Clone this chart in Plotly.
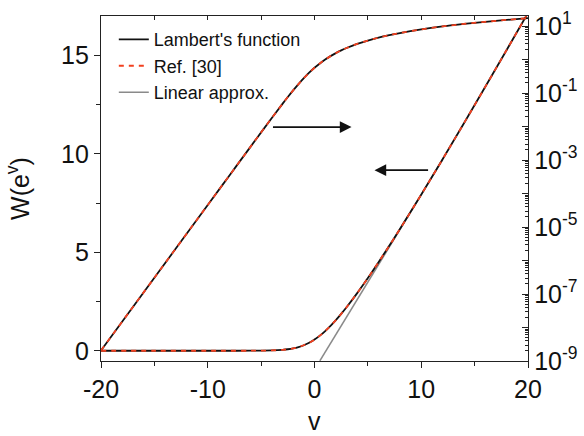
import plotly.graph_objects as go

# ---- data ----
v_vals = [-20, -15, -10, -8, -6, -5, -4, -3, -2.5, -2, -1.5, -1, -0.5, 0, 0.5, 1,
          1.5, 2, 2.5, 3, 4, 5, 6, 7, 8, 10, 12, 14, 16, 18, 20]
lambert_w = [2.061e-9, 3.059e-7, 4.540e-5, 3.353e-4, 2.4726e-3, 6.693e-3, 0.017990,
             0.047478, 0.076072, 0.12002, 0.18545, 0.27846, 0.4047, 0.56714, 0.7662,
             1.0, 1.2649, 1.5571, 1.8726, 2.2079, 2.9263, 3.6935, 4.4975, 5.3272,
             6.1789, 7.9294, 9.7253, 11.553, 13.4043, 15.2738, 17.1576]
ref30_w = [2.061e-9, 3.059e-7, 4.540e-5, 3.353e-4, 2.4726e-3, 6.693e-3, 0.017990,
           0.047478, 0.076072, 0.12002, 0.18545, 0.27846, 0.4047, 0.56714, 0.7662,
           1.0, 1.2649, 1.5571, 1.8726, 2.2079, 2.9263, 3.6935, 4.4975, 5.3272,
           6.1789, 7.9294, 9.7253, 11.553, 13.4043, 15.2738, 17.1576]
linear_v = [0.5, 12]
linear_w = [-0.51, 9.71]

left_ticks = [0, 5, 10, 15]
bottom_ticks = [-20, -10, 0, 10, 20]
bottom_labels = ["-20", "-10", "0", "10", "20"]
right_exps = list(range(-9, 2))
right_labels = ["10<sup>%d</sup>" % e if e % 2 else "" for e in right_exps]

FONT = "Liberation Sans, Arial, sans-serif"
BLACK = "#111111"
RED = "#f2401f"
GRAY = "#8a8a8a"

fig = go.Figure()

fig.add_trace(go.Scatter(x=linear_v, y=linear_w, mode="lines", name="Linear approx.",
                         line=dict(color=GRAY, width=1.6), legendrank=3,
                         xaxis="x", yaxis="y"))
for yax, show in (("y", True), ("y2", False)):
    fig.add_trace(go.Scatter(x=v_vals, y=lambert_w, mode="lines", name="Lambert's function",
                             line=dict(color=BLACK, width=1.8, shape="spline"),
                             showlegend=show, legendrank=1, yaxis=yax))
for yax, show in (("y", True), ("y2", False)):
    fig.add_trace(go.Scatter(x=v_vals, y=ref30_w, mode="lines", name="Ref. [30]",
                             line=dict(color=RED, width=1.8, dash="5px,5px", shape="spline"),
                             showlegend=show, legendrank=2, yaxis=yax))
# helper trace so the top (mirror) axis is drawn
fig.add_trace(go.Scatter(x=[], y=[], xaxis="x3", yaxis="y", showlegend=False,
                         hoverinfo="skip"))

axis_line = dict(showline=True, linecolor="#222222", linewidth=1.3, showgrid=False,
                 zeroline=False, automargin=False)

fig.update_layout(
    width=584, height=436,
    margin=dict(l=101, r=56, t=16, b=75),
    paper_bgcolor="white", plot_bgcolor="white",
    font=dict(family=FONT, color=BLACK, size=25),
    showlegend=True,
    legend=dict(x=0.03, y=0.985, xanchor="left", yanchor="top",
                bgcolor="rgba(0,0,0,0)", font=dict(size=18, family=FONT),
                tracegroupgap=0),
    xaxis=dict(range=[-20, 20], tickvals=bottom_ticks, ticktext=bottom_labels,
               ticks="outside", ticklen=6,
               tickwidth=1.3, tickcolor="#222222",
               minor=dict(dtick=5, tick0=0, ticks="outside", ticklen=4, tickwidth=1.3,
                          tickcolor="#222222"),
               tickfont=dict(size=25), **axis_line),
    xaxis3=dict(range=[-20, 20], overlaying="x", side="top", anchor="y",
                tickvals=[-15, -10, -5, 0, 5, 10, 15], ticks="inside", ticklen=4,
                tickwidth=1.3, tickcolor="#222222", showticklabels=False, **axis_line),
    yaxis=dict(range=[-0.52, 17.0], tickvals=left_ticks, ticks="outside", ticklen=6,
               tickwidth=1.3, tickcolor="#222222",
               minor=dict(dtick=2.5, tick0=0, ticks="outside", ticklen=4, tickwidth=1.3,
                          tickcolor="#222222"),
               title=dict(text="W(e<sup>v</sup>)", standoff=24, font=dict(size=25)),
               tickfont=dict(size=25), **axis_line),
    yaxis2=dict(type="log", range=[-9, 1.3], overlaying="y", side="right",
                tickvals=[10.0 ** e for e in right_exps], ticktext=right_labels,
                ticks="inside", ticklen=6, tickwidth=1.3, tickcolor="#222222",
                minor=dict(dtick="D1", ticks="inside", ticklen=3, tickwidth=1,
                           tickcolor="#222222"),
                tickfont=dict(size=25), **axis_line),
)

# x-axis title
fig.add_annotation(x=0.5, y=-0.2174, xref="paper", yref="paper", text="v",
                   showarrow=False, xanchor="center", yanchor="bottom", borderpad=0,
                   font=dict(size=25, family=FONT, color=BLACK))

# arrows pointing to the relevant axis
fig.add_annotation(x=3.47, y=11.36, ax=-4.03, ay=11.36, xref="x", yref="y",
                   axref="x", ayref="y", text="", showarrow=True, arrowhead=2,
                   arrowsize=1.3, arrowwidth=1.8, arrowcolor=BLACK)
fig.add_annotation(x=5.62, y=9.17, ax=10.78, ay=9.17, xref="x", yref="y",
                   axref="x", ayref="y", text="", showarrow=True, arrowhead=2,
                   arrowsize=1.3, arrowwidth=1.8, arrowcolor=BLACK)

fig.write_html("out.html")
